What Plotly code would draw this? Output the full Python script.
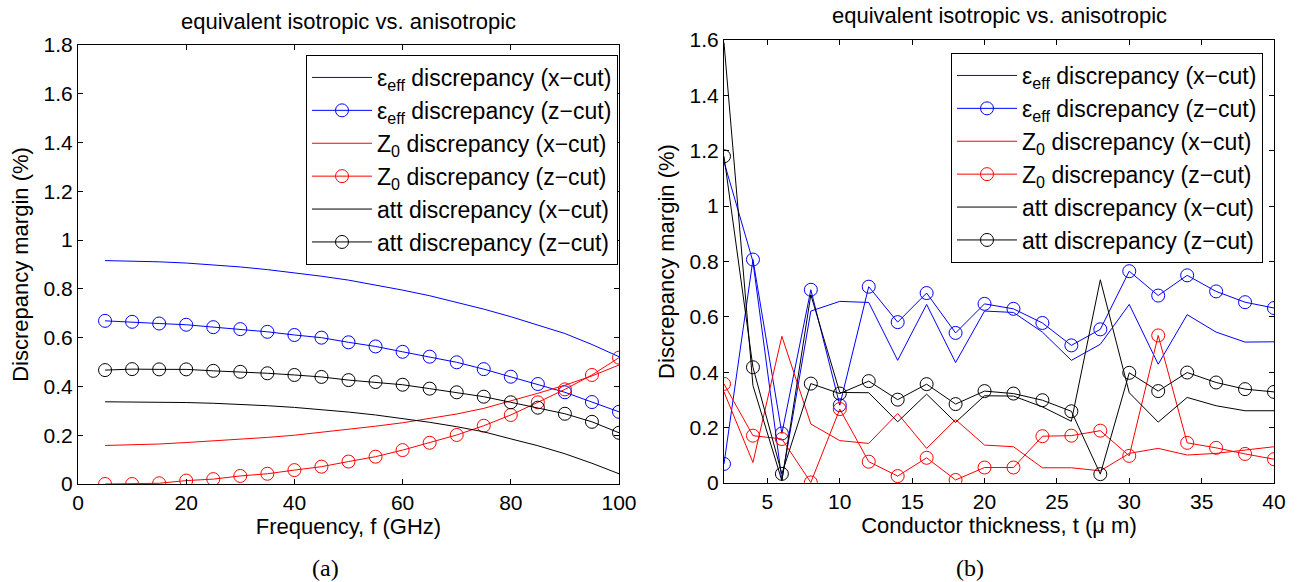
import plotly.graph_objects as go

# ---------------- data: panel (a) ----------------
freq = [5, 10, 15, 20, 25, 30, 35, 40, 45, 50, 55, 60, 65, 70, 75, 80, 85, 90, 95, 100]
eps_x_a = [0.916, 0.914, 0.911, 0.906, 0.899, 0.890, 0.879, 0.866, 0.852, 0.836,
           0.817, 0.795, 0.772, 0.745, 0.717, 0.686, 0.653, 0.617, 0.572, 0.522]
eps_z_a = [0.669, 0.665, 0.658, 0.653, 0.643, 0.635, 0.624, 0.611, 0.600, 0.581,
           0.564, 0.542, 0.522, 0.499, 0.471, 0.440, 0.410, 0.376, 0.336, 0.296]
z0_x_a = [0.158, 0.160, 0.164, 0.170, 0.176, 0.183, 0.191, 0.200, 0.212, 0.224,
          0.237, 0.251, 0.268, 0.287, 0.310, 0.340, 0.372, 0.405, 0.443, 0.488]
z0_z_a = [0.000, 0.000, 0.003, 0.014, 0.020, 0.033, 0.042, 0.057, 0.071, 0.092,
          0.112, 0.139, 0.169, 0.201, 0.239, 0.283, 0.335, 0.388, 0.447, 0.518]
att_x_a = [0.337, 0.337, 0.336, 0.334, 0.331, 0.327, 0.321, 0.314, 0.305, 0.295,
           0.283, 0.269, 0.253, 0.235, 0.214, 0.185, 0.157, 0.124, 0.085, 0.042]
att_z_a = [0.467, 0.471, 0.470, 0.470, 0.464, 0.460, 0.454, 0.447, 0.439, 0.426,
           0.418, 0.407, 0.391, 0.376, 0.358, 0.335, 0.313, 0.288, 0.255, 0.210]

# ---------------- data: panel (b) ----------------
thick = [2, 4, 6, 8, 10, 12, 14, 16, 18, 20, 22, 24, 26, 28, 30, 32, 34, 36, 38, 40]
eps_x_b = [1.16, 0.80, 0.011, 0.621, 0.656, 0.652, 0.443, 0.645, 0.435, 0.621,
           0.616, 0.545, 0.443, 0.501, 0.645, 0.429, 0.608, 0.545, 0.509, 0.510]
eps_z_b = [0.069, 0.807, 0.179, 0.698, 0.281, 0.709, 0.581, 0.686, 0.542, 0.647,
           0.629, 0.578, 0.497, 0.555, 0.765, 0.677, 0.750, 0.692, 0.653, 0.632]
z0_x_b = [0.329, 0.074, 0.530, 0.213, 0.153, 0.143, 0.251, 0.125, 0.229, 0.137,
          0.131, 0.055, 0.055, 0.044, 0.107, 0.125, 0.101, 0.107, 0.119, 0.131]
z0_z_b = [0.358, 0.171, 0.159, 0.002, 0.267, 0.077, 0.025, 0.091, 0.011, 0.056,
          0.056, 0.169, 0.171, 0.189, 0.098, 0.533, 0.145, 0.127, 0.105, 0.086]
att_x_b = [1.59, 0.352, 0.008, 0.680, 0.327, 0.326, 0.221, 0.321, 0.219, 0.315,
           0.314, 0.275, 0.223, 0.734, 0.326, 0.220, 0.309, 0.279, 0.261, 0.261]
att_z_b = [1.180, 0.418, 0.033, 0.359, 0.323, 0.368, 0.301, 0.357, 0.285, 0.332,
           0.323, 0.299, 0.259, 0.032, 0.398, 0.332, 0.399, 0.363, 0.339, 0.329]

names = ["ε<sub>eff</sub> discrepancy (x−cut)", "ε<sub>eff</sub> discrepancy (z−cut)",
         "Z<sub>0</sub> discrepancy (x−cut)", "Z<sub>0</sub> discrepancy (z−cut)",
         "att discrepancy (x−cut)", "att discrepancy (z−cut)"]
colors = ["#0000ff", "#0000ff", "#ff0000", "#ff0000", "#000000", "#000000"]
with_marker = [False, True, False, True, False, True]

FONT = "Liberation Sans, Arial, Helvetica, sans-serif"
SERIF = "Liberation Serif, Times New Roman, serif"
W, H = 1300, 582

fig = go.Figure()

series_a = [eps_x_a, eps_z_a, z0_x_a, z0_z_a, att_x_a, att_z_a]
series_b = [eps_x_b, eps_z_b, z0_x_b, z0_z_b, att_x_b, att_z_b]

for i, (ys, nm, c, mk) in enumerate(zip(series_b, names, colors, with_marker)):
    fig.add_trace(go.Scatter(
        x=thick, y=ys, name=nm, xaxis="x2", yaxis="y2", legend="legend2",
        mode="lines+markers" if mk else "lines",
        line=dict(color=c, width=1),
        marker=dict(symbol="circle-open", size=13, color=c, line=dict(width=1, color=c)),
    ))

for i, (ys, nm, c, mk) in enumerate(zip(series_a, names, colors, with_marker)):
    fig.add_trace(go.Scatter(
        x=freq, y=ys, name=nm, xaxis="x", yaxis="y", legend="legend",
        mode="lines+markers" if mk else "lines",
        line=dict(color=c, width=1),
        marker=dict(symbol="circle-open", size=13, color=c, line=dict(width=1, color=c)),
    ))

def px_x(p):
    return p / W

def px_y(p):
    return (H - p) / H

axis_common = dict(
    showline=True, linecolor="black", linewidth=1, mirror="allticks",
    ticks="inside", ticklen=5, tickcolor="black", showgrid=False, zeroline=False,
    automargin=False,
    tickfont=dict(family=FONT, size=21, color="black"),
)

leg_common = dict(
    font=dict(family=FONT, size=23, color="black"),
    bgcolor="white", bordercolor="black", borderwidth=1,
    xanchor="right", yanchor="top", traceorder="normal",
    itemwidth=60,
)

TITLE_FONT = dict(family=FONT, size=22, color="black")

fig.update_layout(
    template="none",
    width=W, height=H,
    margin=dict(l=0, r=0, t=0, b=0, autoexpand=False),
    paper_bgcolor="white", plot_bgcolor="white",
    font=dict(family=FONT, color="black"),
    showlegend=True,
    xaxis=dict(domain=[px_x(78), px_x(619)], range=[0, 100], anchor="y",
               tickvals=[0, 20, 40, 60, 80, 100],
               title=dict(text="Frequency, f (GHz)", font=TITLE_FONT, standoff=4),
               **axis_common),
    yaxis=dict(domain=[px_y(484), px_y(45)], range=[0, 1.8], anchor="x",
               tickvals=[0, 0.2, 0.4, 0.6, 0.8, 1, 1.2, 1.4, 1.6, 1.8],
               ticktext=["0", "0.2", "0.4", "0.6", "0.8", "1", "1.2", "1.4", "1.6", "1.8"],
               title=dict(text="Discrepancy margin (%)", font=TITLE_FONT, standoff=8),
               **axis_common),
    xaxis2=dict(domain=[px_x(724), px_x(1274)], range=[2, 40], anchor="y2",
                tickvals=[5, 10, 15, 20, 25, 30, 35, 40],
                title=dict(text="Conductor thickness, t (μ m)", font=TITLE_FONT, standoff=4),
                **axis_common),
    yaxis2=dict(domain=[px_y(483), px_y(40)], range=[0, 1.6], anchor="x2",
                tickvals=[0, 0.2, 0.4, 0.6, 0.8, 1, 1.2, 1.4, 1.6],
                ticktext=["0", "0.2", "0.4", "0.6", "0.8", "1", "1.2", "1.4", "1.6"],
                title=dict(text="Discrepancy margin (%)", font=TITLE_FONT, standoff=8),
                **axis_common),
    legend=dict(x=px_x(618), y=px_y(55), **leg_common),
    legend2=dict(x=px_x(1263), y=px_y(53), **leg_common),
    annotations=[
        dict(text="equivalent isotropic vs. anisotropic", x=px_x(348), y=px_y(22),
             xref="paper", yref="paper", showarrow=False, xanchor="center", yanchor="middle",
             font=TITLE_FONT),
        dict(text="equivalent isotropic vs. anisotropic", x=px_x(999), y=px_y(15),
             xref="paper", yref="paper", showarrow=False, xanchor="center", yanchor="middle",
             font=TITLE_FONT),
        dict(text="(a)", x=px_x(325), y=px_y(568), xref="paper", yref="paper",
             showarrow=False, xanchor="center", yanchor="middle",
             font=dict(family=SERIF, size=24, color="black")),
        dict(text="(b)", x=px_x(970), y=px_y(568), xref="paper", yref="paper",
             showarrow=False, xanchor="center", yanchor="middle",
             font=dict(family=SERIF, size=24, color="black")),
    ],
)

fig.write_html("out.html", config={"displayModeBar": False},
               post_script="document.body.style.margin='0';")
